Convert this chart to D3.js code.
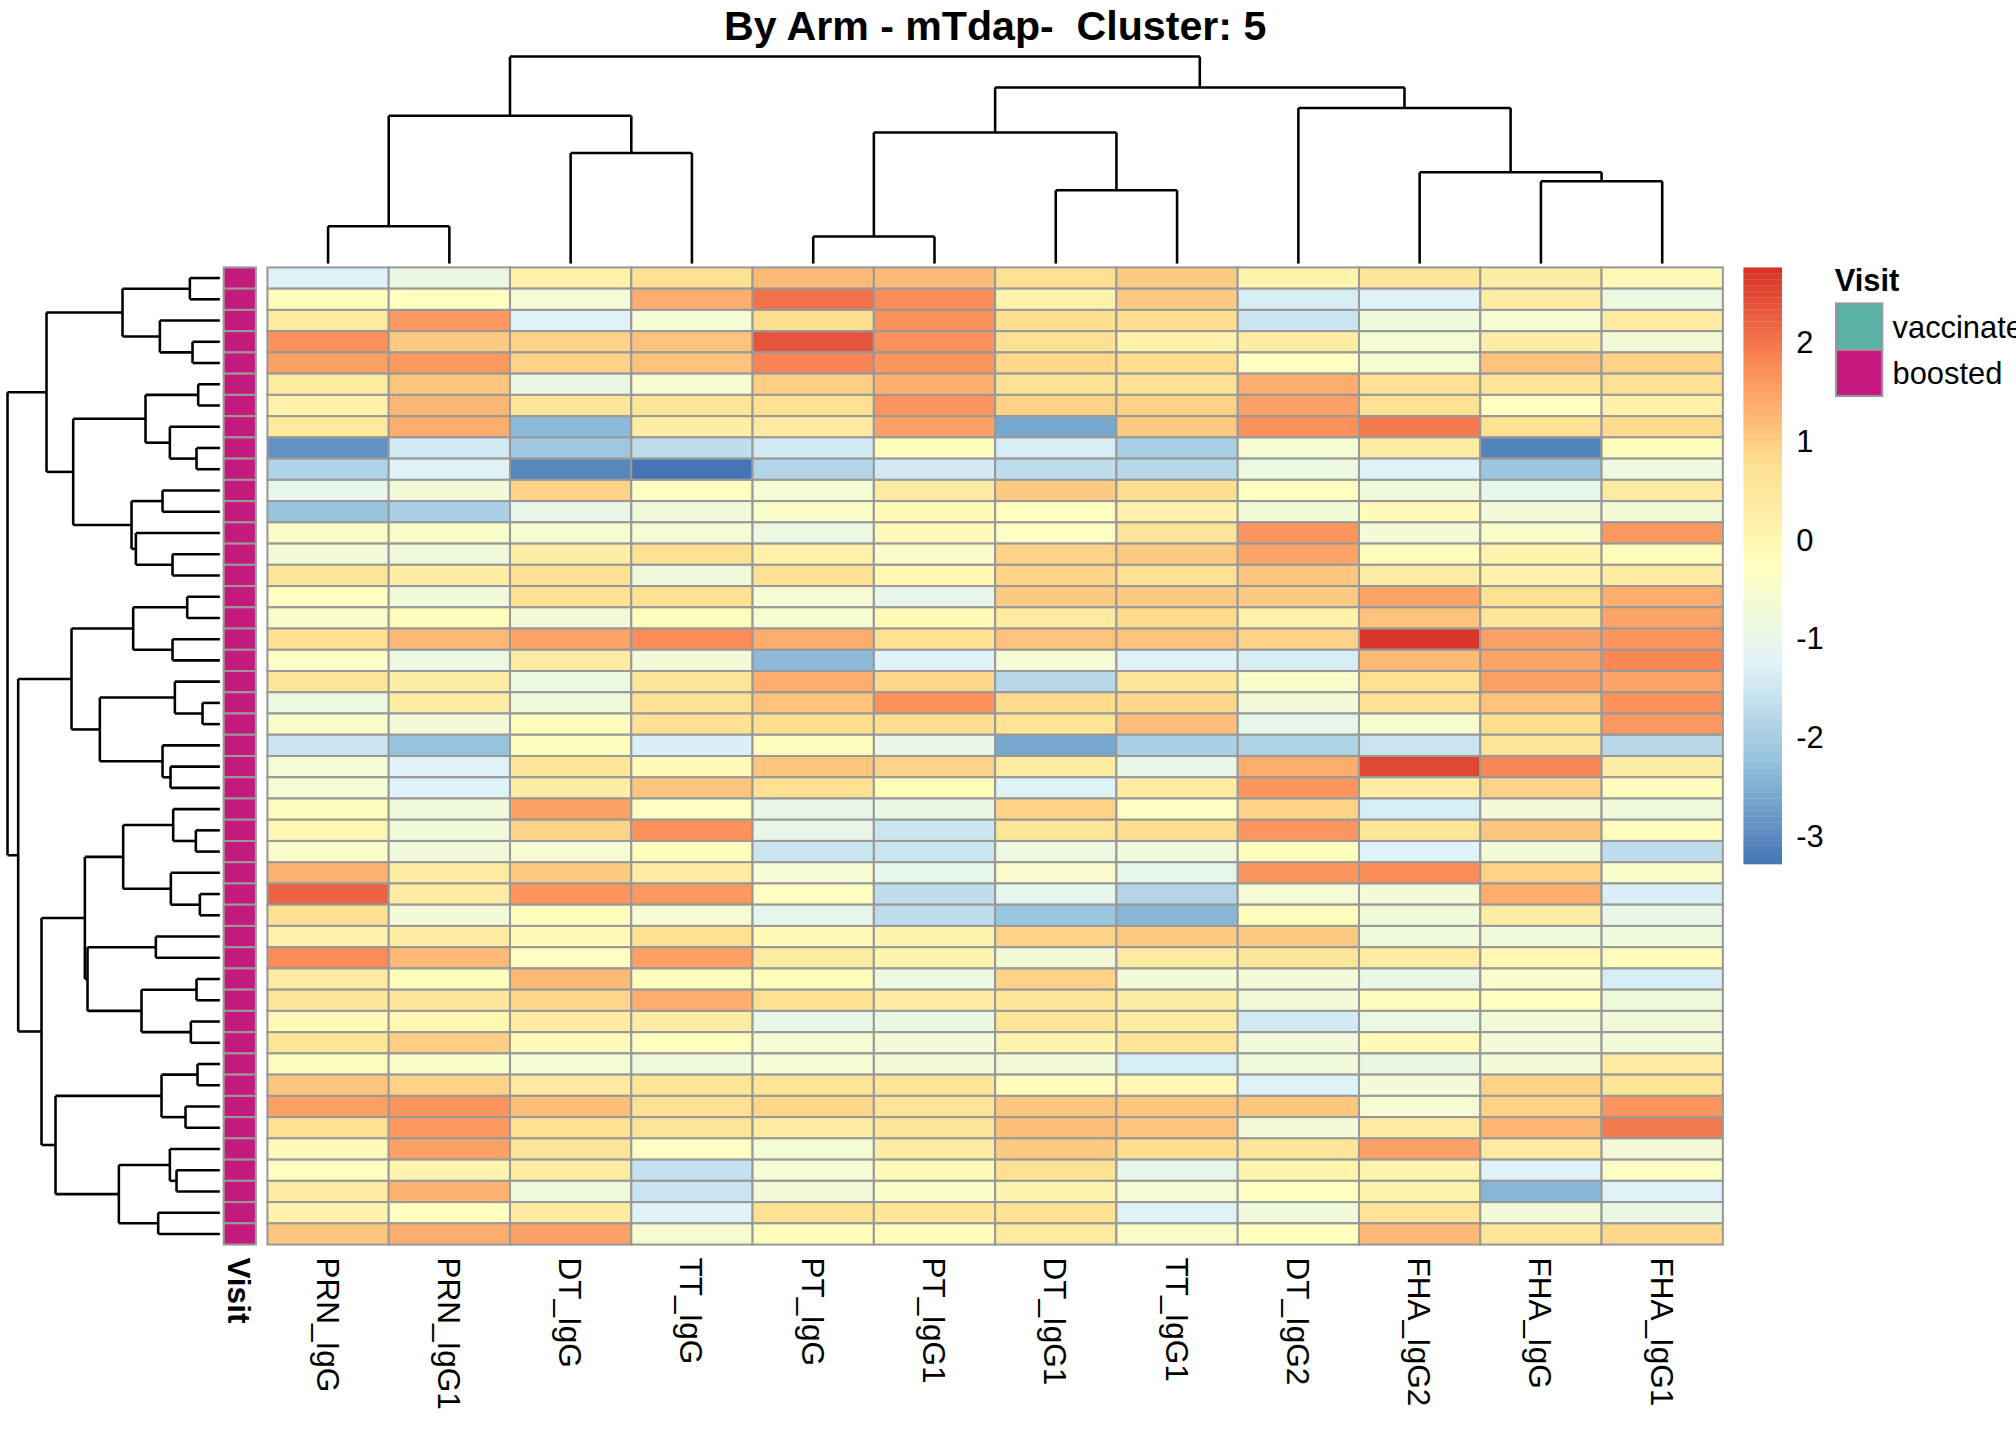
<!DOCTYPE html>
<html>
<head>
<meta charset="utf-8">
<script src="https://cdn.jsdelivr.net/npm/d3@7"></script>
<style>
  body { margin: 0; background: #fff; }
  svg { display: block; font-family: "Liberation Sans", Arial, sans-serif; }
  text { white-space: pre; }
</style>
</head>
<body>
<svg id="chart" width="2016" height="1440" viewBox="0 0 1568 1120"></svg>
<script>
// column labels, in dendrogram order
const columns = ["PRN_IgG", "PRN_IgG1", "DT_IgG", "TT_IgG", "PT_IgG", "PT_IgG1",
                 "DT_IgG1", "TT_IgG1", "DT_IgG2", "FHA_IgG2", "FHA_IgG", "FHA_IgG1"];

// scaled values, one row per sample (46 samples, all "boosted")
const values = [
  [-1.3, -0.9, 0.2, 0.7, 1.2, 1.2, 0.7, 1.0, 0.1, 0.5, 0.3, -0.1],
  [-0.2, -0.3, -0.6, 1.35, 2.05, 1.75, 0.15, 1.0, -1.4, -1.3, 0.3, -0.85],
  [0.45, 1.6, -1.3, -0.6, 0.75, 1.7, 0.75, 0.75, -1.55, -0.8, -0.6, 0.4],
  [1.7, 1.0, 0.9, 1.1, 2.35, 1.7, 0.7, 0.2, 0.35, -0.6, 0.3, -0.7],
  [1.5, 1.6, 0.9, 1.1, 1.85, 1.65, 0.85, 0.75, -0.3, -0.6, 1.1, 0.9],
  [0.35, 1.05, -0.95, -0.55, 0.95, 1.35, 0.7, 0.7, 1.35, 0.7, 0.55, 0.7],
  [0.2, 1.25, 0.55, 0.55, 0.7, 1.65, 0.9, 0.9, 1.5, 0.7, -0.3, 0.2],
  [0.45, 1.35, -2.35, 0.3, 0.4, 1.5, -2.6, 1.0, 1.7, 1.95, 0.7, 0.8],
  [-2.9, -1.45, -2.1, -1.7, -1.45, -0.2, -1.4, -2.0, -0.6, 0.35, -3.1, -0.2],
  [-1.9, -1.3, -3.05, -3.29, -1.85, -1.45, -1.7, -1.8, -0.85, -1.3, -2.15, -0.8],
  [-1.05, -0.7, 0.9, -0.3, -0.6, 0.4, 1.0, 0.75, -0.3, -0.75, -1.05, 0.4],
  [-2.2, -1.95, -1.0, -0.75, -0.45, -0.1, -0.3, 0.2, -0.7, -0.1, -0.7, -0.7],
  [-0.4, -0.45, -0.55, -0.6, -0.85, -0.1, -0.35, 0.6, 1.65, -0.7, -0.45, 1.6],
  [-0.7, -0.75, 0.3, 0.7, 0.2, -0.45, 0.9, 1.0, 1.45, -0.2, 0.1, -0.15],
  [0.55, 0.3, 0.7, -0.75, 0.7, 0.0, 0.9, 0.7, 1.05, 0.3, 0.2, 0.35],
  [-0.3, -0.75, 0.7, 0.7, -0.6, -1.05, 1.0, 1.0, 1.0, 1.45, 0.7, 1.35],
  [-0.45, -0.2, -0.7, -0.2, -0.55, -0.1, 0.4, 0.8, 0.2, 1.1, 0.55, 1.45],
  [0.7, 1.2, 1.45, 1.75, 1.35, 0.7, 1.1, 1.1, 0.9, 2.7, 1.5, 1.65],
  [-0.35, -0.85, 0.4, -0.7, -2.35, -1.3, -0.6, -1.3, -1.4, 1.2, 1.45, 1.8],
  [0.55, 0.3, -0.85, 0.55, 1.35, 0.85, -1.8, 0.55, -0.45, 0.7, 1.5, 1.45],
  [-0.85, 0.3, -0.75, 0.7, 1.1, 1.7, 0.8, 0.85, -0.7, 0.7, 1.1, 1.7],
  [-0.45, -0.7, -0.2, 0.7, 0.75, 0.75, 0.6, 1.15, -1.05, -0.55, 0.75, 1.6],
  [-1.55, -2.2, -0.2, -1.35, -0.2, -0.95, -2.6, -1.95, -1.9, -1.55, 0.6, -1.8],
  [-0.6, -1.3, 0.55, -0.1, 1.05, 0.9, 0.35, -0.95, 1.35, 2.5, 1.8, 0.3],
  [-0.6, -1.3, 0.3, 1.05, 0.7, -0.15, -1.3, 0.3, 1.65, 0.35, 0.9, -0.2],
  [-0.2, -0.75, 1.5, -0.35, -1.0, -0.9, 0.9, -0.35, 0.9, -1.4, -0.7, -0.75],
  [0.0, -0.75, 0.9, 1.7, -1.0, -1.55, 0.55, 0.75, 1.65, 0.55, 1.05, -0.2],
  [-0.45, -0.75, -0.6, -0.2, -1.55, -1.55, -0.85, -0.75, -0.2, -1.3, -0.7, -1.7],
  [1.3, 0.35, 1.0, 0.35, -0.6, -1.05, -0.5, -1.05, 1.65, 1.75, 0.9, -0.45],
  [2.2, 0.35, 1.65, 1.6, -0.3, -1.7, -1.05, -1.85, -0.6, -0.7, 1.35, -1.35],
  [0.7, -0.7, -0.2, -0.6, -1.05, -1.7, -2.15, -2.4, -0.2, -0.75, 0.3, -1.0],
  [0.2, 0.35, -0.1, 0.7, -0.1, 0.1, 0.9, 1.0, 1.0, -0.75, -0.75, -0.8],
  [1.75, 1.2, -0.35, 1.5, 0.35, 0.1, -0.7, 0.4, 0.55, 0.3, 0.0, -0.2],
  [0.4, -0.2, 1.2, -0.2, -0.2, -0.85, 0.9, -0.7, -0.7, -0.95, -0.45, -1.4],
  [0.55, 0.55, 0.85, 1.35, 0.7, 0.4, 0.55, 0.3, -0.7, -0.2, -0.3, -0.75],
  [-0.1, 0.0, 0.4, 0.35, -1.0, -0.9, 0.55, 0.35, -1.45, -0.85, -0.7, -0.75],
  [0.55, 0.95, -0.1, -0.3, -0.6, -0.7, 0.1, 0.6, -0.75, -0.1, -0.7, -0.7],
  [-0.2, -0.45, -0.6, -0.8, -0.6, -0.7, -0.7, -1.4, -0.75, -0.9, -0.7, 0.4],
  [1.05, 0.9, 0.4, 0.55, 0.55, 0.55, -0.2, 0.0, -1.3, -0.7, 0.9, 0.55],
  [1.5, 1.65, 1.15, 0.7, 0.85, 0.6, 1.05, 1.05, 1.05, -0.6, 0.9, 1.65],
  [0.7, 1.6, 0.7, 0.6, 0.35, 0.6, 1.15, 1.05, -0.7, 0.35, 1.25, 1.95],
  [-0.1, 1.5, 0.6, -0.35, -0.6, 0.35, 1.0, 0.75, 0.55, 1.5, 0.4, -0.7],
  [-0.3, 0.1, 0.35, -1.6, -0.6, -0.1, 0.7, -1.05, 0.1, 0.1, -1.3, -0.35],
  [0.4, 1.3, -0.75, -1.55, -0.7, -0.45, 0.1, -0.6, -0.3, 0.1, -2.4, -1.3],
  [0.1, -0.3, 0.4, -1.3, 0.7, 0.55, 0.7, -1.3, -0.75, 0.6, -0.7, -0.9],
  [1.05, 1.35, 1.5, -0.55, -0.2, -0.2, 0.4, -0.45, -0.3, 1.2, 0.55, 0.85]
];

const visit = values.map(() => "boosted");
const visitLevels = ["vaccinated", "boosted"];
const visitColors = ["#5BB1A6", "#C51A7D"];

// dendrograms: [height, left, right], leaves are indices
const colTree = [161, [115, [29, 0, 1], [86, 2, 3]],
                      [137, [102, [21, 4, 5], [57, 6, 7]], [121, 8, [71, 9, [64, 10, 11]]]]];
const rowTree = [637,
  [520, [292, [90, 0, 1], [180, 2, [82, 3, 4]]],
        [440, [223, [65, 5, 6], [150, 7, [70, 8, 9]]],
              [265, [172, 10, 11], [252, 12, [142, 13, 14]]]]],
  [605, [445, [260, [98, 15, 16], [142, 17, 18]],
              [360, [135, 19, [52, 20, 21]], [172, 22, [148, 23, 24]]]],
        [535, [405, [290, [140, 25, [72, 26, 27]], [147, 28, [60, 29, 30]]],
                    [397, [192, 31, 32], [235, [70, 33, 34], [87, 35, 36]]]],
              [493, [175, [67, 37, 38], [103, 39, 40]],
                    [303, [150, 41, [130, 42, 43]], [185, 44, 45]]]]]];

const legendTicks = [2, 1, 0, -1, -2, -3];
const vMin = -3.29, vMax = 2.75;
const palette = ["#4575B4", "#91BFDB", "#E0F3F8", "#FFFFBF", "#FEE090", "#FC8D59", "#D73027"];

const svg = d3.select("#chart");
const x0 = 208, x1 = 1340, y0 = 208, y1 = 968;

const x = d3.scaleBand().domain(d3.range(columns.length)).range([x0, x1]);
const y = d3.scaleBand().domain(d3.range(values.length)).range([y0, y1]);
const color = d3.scaleLinear()
  .domain(d3.range(7).map(i => vMin + i * (vMax - vMin) / 6))
  .range(palette);

// title
svg.append("text").attr("x", 774).attr("y", 31).attr("text-anchor", "middle")
  .attr("font-size", 32).attr("font-weight", "bold")
  .text("By Arm - mTdap-  Cluster: 5");

// heatmap cells
values.forEach((row, i) => {
  row.forEach((v, j) => {
    svg.append("rect")
      .attr("x", x(j)).attr("y", y(i))
      .attr("width", x.bandwidth()).attr("height", y.bandwidth())
      .attr("fill", color(v)).attr("stroke", "#999").attr("stroke-width", 1.6);
  });
});

// visit annotation column
svg.selectAll(".visit").data(visit).join("rect")
  .attr("x", 174).attr("y", (d, i) => y(i))
  .attr("width", 25).attr("height", y.bandwidth())
  .attr("fill", d => visitColors[visitLevels.indexOf(d)])
  .attr("stroke", "#999").attr("stroke-width", 1.6);

// dendrogram drawing
function drawTree(node, leafPos, hPos, line) {
  if (typeof node === "number") return { p: leafPos(node), h: 0 };
  const a = drawTree(node[1], leafPos, hPos, line);
  const b = drawTree(node[2], leafPos, hPos, line);
  const h = node[0];
  line(a.p, hPos(a.h), a.p, hPos(h));
  line(b.p, hPos(b.h), b.p, hPos(h));
  line(a.p, hPos(h), b.p, hPos(h));
  return { p: (a.p + b.p) / 2, h: h };
}

const dg = svg.append("g").attr("stroke", "#000").attr("stroke-width", 2).attr("fill", "none");

drawTree(colTree, j => x(j) + x.bandwidth() / 2, h => 205 - h,
  (p1, h1, p2, h2) => dg.append("line").attr("x1", p1).attr("y1", h1).attr("x2", p2).attr("y2", h2));

drawTree(rowTree, i => y(i) + y.bandwidth() / 2, h => 171 - h / 3.857,
  (p1, h1, p2, h2) => dg.append("line").attr("x1", h1).attr("y1", p1).attr("x2", h2).attr("y2", p2));

// column labels
columns.forEach((c, j) => {
  const cx = x(j) + x.bandwidth() / 2;
  svg.append("text").attr("transform", `translate(${cx - 9},978) rotate(90)`)
    .attr("font-size", 24.5).text(c);
});
svg.append("text").attr("transform", `translate(177,978) rotate(90)`)
  .attr("font-size", 24.5).attr("font-weight", "bold").text("Visit");

// colour legend
const ly = d3.scaleLinear().domain([vMax, vMin]).range([208, 672]);
const steps = d3.range(100).map(i => vMax - (i + 0.5) * (vMax - vMin) / 100);
svg.selectAll(".leg").data(steps).join("rect")
  .attr("x", 1356).attr("width", 30)
  .attr("y", (d, i) => 208 + i * 4.64).attr("height", 4.9)
  .attr("fill", d => color(d));
legendTicks.forEach(t => {
  svg.append("text").attr("x", 1397).attr("y", ly(t) + 9)
    .attr("font-size", 24).text(t);
});

// visit legend
svg.append("text").attr("x", 1427).attr("y", 226).attr("font-size", 24)
  .attr("font-weight", "bold").text("Visit");
visitLevels.forEach((lv, k) => {
  svg.append("rect").attr("x", 1428).attr("y", 236 + k * 36)
    .attr("width", 36).attr("height", 36)
    .attr("fill", visitColors[k]).attr("stroke", "#999").attr("stroke-width", 1.6);
  svg.append("text").attr("x", 1472).attr("y", 263 + k * 36)
    .attr("font-size", 24).text(lv);
});
</script>
</body>
</html>
